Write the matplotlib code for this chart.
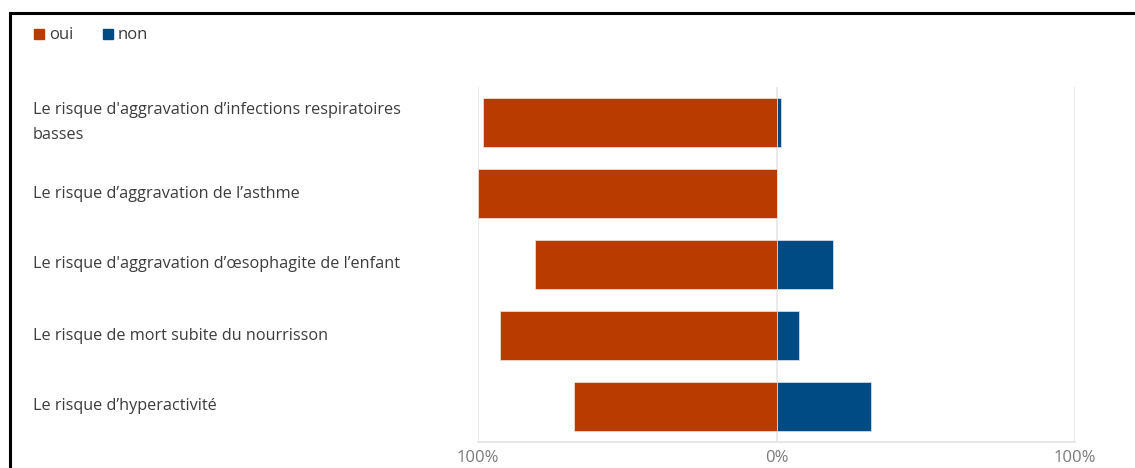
import matplotlib
matplotlib.use("Agg")
import matplotlib.pyplot as plt
from matplotlib.patches import Rectangle
from matplotlib.transforms import blended_transform_factory

categories = [
    "Le risque d'aggravation d\u2019infections respiratoires\nbasses",
    "Le risque d\u2019aggravation de l\u2019asthme",
    "Le risque d'aggravation d\u2019\u0153sophagite de l\u2019enfant",
    "Le risque de mort subite du nourrisson",
    "Le risque d\u2019hyperactivit\u00e9",
]
oui = [98.3, 100.0, 80.9, 92.6, 67.9]
non = [1.4, 0.0, 18.8, 7.4, 31.8]
series_names = ["oui", "non"]
tick_values = [-100, 0, 100]
tick_labels = ["100%", "0%", "100%"]

C_OUI = "#BA3B00"
C_NON = "#014B85"
FONT = ["Open Sans", "DejaVu Sans"]
plt.rcParams["font.family"] = FONT

W, H = 1135, 468
fig = plt.figure(figsize=(W / 100, H / 100), dpi=100)

# outer frame (extends beyond right/bottom edges)
fig.patches.append(Rectangle((9.5 / W, -0.1), 1.2, 1.1 - 13.5 / H,
                             transform=fig.transFigure, fill=False,
                             edgecolor="black", linewidth=2.2))

ax = fig.add_axes([478 / W, (H - 442) / H, 597 / W, 355 / H])
y = list(range(len(categories)))
ax.barh(y, [-v for v in oui], height=0.68, color=C_OUI, edgecolor="#f4e6e0", linewidth=0.5, zorder=3)
ax.barh(y, non, height=0.68, color=C_NON, edgecolor="#dfe6ee", linewidth=0.5, zorder=3)
ax.set_xlim(-100, 100)
ax.set_ylim(len(categories) - 0.5, -0.5)

for s in ["top", "right", "left"]:
    ax.spines[s].set_visible(False)
ax.spines["bottom"].set_color("#e3e3e3")
ax.spines["bottom"].set_linewidth(1.2)
ax.set_xticks(tick_values)
ax.set_xticklabels(tick_labels, fontsize=12, color="#7a7a7a")
ax.tick_params(axis="x", length=0, pad=6)
ax.set_yticks([])
for tv in tick_values:
    ax.axvline(tv, color="#e6e6e6", linewidth=1.2, zorder=1)

tr = blended_transform_factory(fig.transFigure, ax.transData)
for i, lab in enumerate(categories):
    ax.text(33 / W, i, lab, transform=tr, ha="left", va="center", fontsize=11.7,
            color="#3c3c3c", linespacing=1.8)

# legend
lx = [34, 103]
colors = [C_OUI, C_NON]
for x0, name, c in zip(lx, series_names, colors):
    fig.patches.append(Rectangle((x0 / W, (H - 39) / H), 10 / W, 10 / H,
                                 transform=fig.transFigure, color=c))
    fig.text((x0 + 15) / W, (H - 35) / H, name, ha="left", va="center",
             fontsize=12, color="#3c3c3c")

fig.savefig("out.png", dpi=100)
